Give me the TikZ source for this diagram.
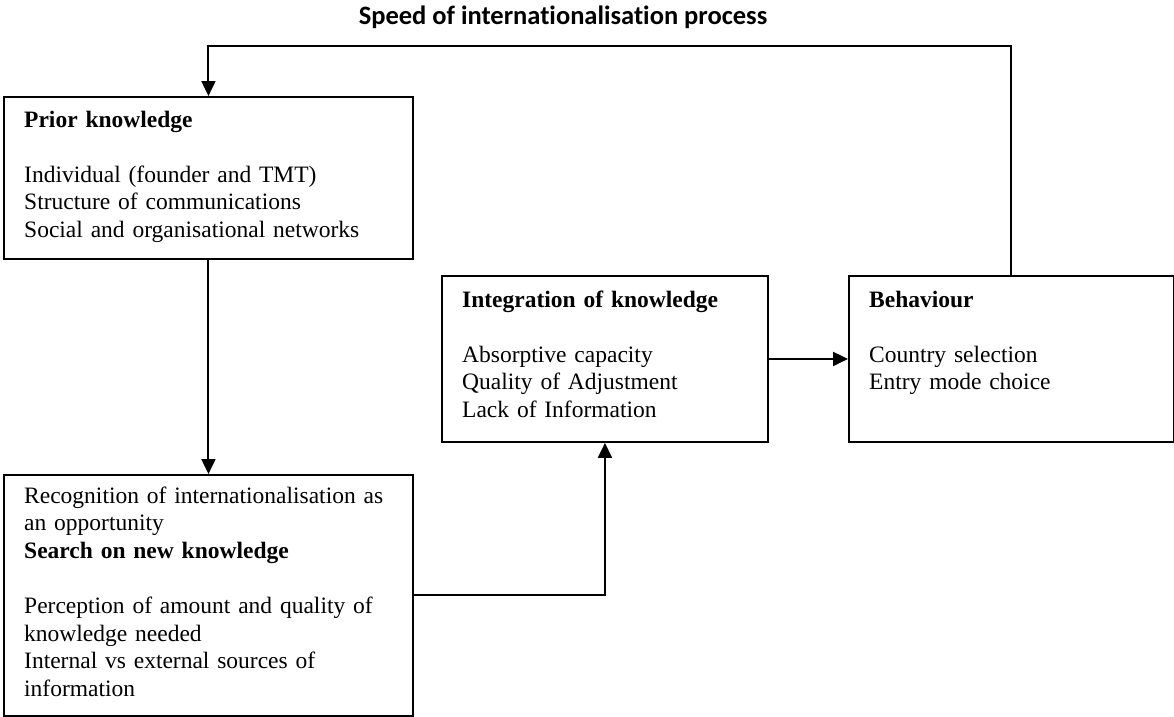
\documentclass[tikz,border=0pt]{standalone}
\usepackage{fontspec}
\setmainfont{Liberation Serif}
\newfontfamily\titlefont[Ligatures={NoCommon}]{Carlito}
\usetikzlibrary{arrows.meta,calc}

\begin{document}
\begin{tikzpicture}[x=1pt,y=-1pt,
  box/.style={draw, line width=1.9pt, rectangle, inner sep=0pt, anchor=north west},
  boxtext/.style={anchor=base west, inner sep=0pt, align=left, text width=#1,
    font=\fontsize{23.5}{27.6}\selectfont},
  link/.style={line width=2pt, -{Triangle[length=15pt,width=14pt]}}]

\useasboundingbox (0,0) rectangle (1174,716);

% heading of the loop
\node[anchor=base, inner sep=0pt, font=\titlefont\bfseries\fontsize{26.5}{30}\selectfont]
  (title) at (563,24) {Speed of internationalisation process};

% boxes
\node[box, minimum width=409pt, minimum height=162pt] (prior)  at (3,96)   {};
\node[box, minimum width=409pt, minimum height=241pt] (search) at (3,474)  {};
\node[box, minimum width=326pt, minimum height=166pt] (integ)  at (441,275) {};
\node[box, minimum width=325pt, minimum height=166pt] (behav)  at (848,275) {};

% box contents
\node[boxtext=380pt] (priortxt) at (24,127)
  {\textbf{Prior knowledge}\\[27.6pt]
   Individual (founder and TMT)\\
   Structure of communications\\
   Social and organisational networks};

\node[boxtext=385pt] (searchtxt) at (24,503)
  {Recognition of internationalisation as\\
   an opportunity\\
   \textbf{Search on new knowledge}\\[27.6pt]
   Perception of amount and quality of\\
   knowledge needed\\
   Internal vs external sources of\\
   information};

\node[boxtext=300pt] (integtxt) at (462,307)
  {\textbf{Integration of knowledge}\\[27.6pt]
   Absorptive capacity\\
   Quality of Adjustment\\
   Lack of Information};

\node[boxtext=300pt] (behavtxt) at (869,307)
  {\textbf{Behaviour}\\[27.6pt]
   Country selection\\
   Entry mode choice};

% connectors
\coordinate (looptop) at (0,46);
\draw[link] (behav.north) -- (behav.north |- looptop) -| (prior.north);
\draw[link] (prior.south) -- (search.north);
\draw[link] (search.east) -| (integ.south);
\draw[link] (integ.east) -- (behav.west);
\end{tikzpicture}
\end{document}
